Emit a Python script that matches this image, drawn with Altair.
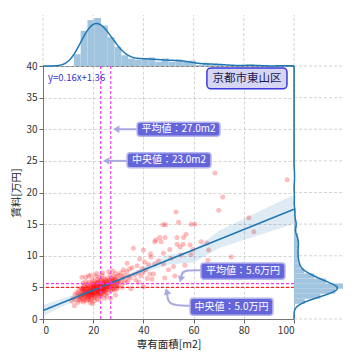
import altair as alt
import pandas as pd

# ---------------- data ----------------
pts = [
    (11.5,2.8),(12.0,3.3),(12.5,2.1),(12.8,3.9),(13.2,3.0),(13.5,4.2),(13.8,2.6),(14.0,3.5),(14.3,4.6),(14.5,3.1),(14.8,3.8),(15.0,2.9),
    (15.2,3.6),(15.4,4.1),(15.5,6.6),(15.6,3.2),(15.8,4.8),(16.0,3.9),(16.1,2.7),(16.3,4.4),(16.5,5.2),(16.6,3.4),(16.8,4.0),(17.0,6.6),
    (17.0,3.7),(17.2,4.6),(17.3,2.9),(17.5,4.2),(17.6,5.5),(17.8,3.5),(18.0,4.0),(18.0,4.9),(18.2,3.1),(18.3,4.5),(18.5,3.8),(18.5,5.8),
    (18.7,4.3),(18.8,2.6),(19.0,4.7),(19.0,3.6),(19.1,5.1),(19.2,4.1),(19.4,3.3),(19.5,4.4),(19.5,6.2),(19.6,3.9),(19.8,5.0),(19.9,4.2),
    (15.9,5.7),(16.4,3.0),(17.4,5.0),(18.1,6.8),(18.9,3.0),(19.3,5.6),(16.9,4.3),(17.7,3.3),(15.3,4.5),(19.7,2.4),(18.4,4.1),(17.1,5.9),
    (16.2,4.7),(19.0,6.9),
    (20.0,4.5),(20.1,3.8),(20.2,5.3),(20.3,4.1),(20.5,6.0),(20.5,3.4),(20.7,4.8),(20.8,5.5),(21.0,4.3),(21.0,6.8),(21.1,3.7),(21.2,5.0),
    (21.4,4.6),(21.5,5.8),(21.5,3.2),(21.7,4.9),(21.8,6.3),(22.0,4.2),(22.0,5.4),(22.1,3.9),(22.3,5.1),(22.4,6.6),(22.5,4.5),(22.5,5.7),
    (22.7,4.0),(22.8,5.2),(23.0,4.8),(23.0,6.1),(23.0,3.6),(23.2,5.0),(23.3,5.5),(23.5,4.4),(23.5,6.9),(23.6,5.3),(23.8,4.7),(23.9,5.9),
    (24.0,5.0),(24.0,4.1),(24.2,6.4),(24.3,5.4),(24.5,4.6),(24.5,5.8),(24.7,5.1),(24.8,3.9),(24.9,6.2),(20.4,2.9),(21.3,7.2),(22.2,3.0),
    (23.7,7.3),(24.4,3.3),(20.9,5.1),(21.9,4.4),(22.9,4.9),(23.4,4.0),(24.6,5.0),
    (25.0,5.3),(25.2,4.7),(25.3,6.0),(25.5,5.6),(25.7,4.2),(25.8,6.5),(26.0,5.2),(26.1,5.8),(26.3,4.9),(26.5,6.2),(26.6,5.4),(26.8,7.0),
    (27.0,5.7),(27.1,4.5),(27.3,6.4),(27.5,5.1),(27.6,6.0),(27.8,4.8),(28.0,5.5),(28.1,6.7),(28.3,5.9),(28.5,4.6),(28.6,6.3),(28.8,5.3),
    (29.0,7.2),(29.2,5.6),(29.4,6.1),(29.6,4.9),(29.8,6.8),(25.4,3.6),(26.9,3.3),(27.9,7.6),(28.9,3.8),(26.2,7.5),(29.5,5.2),
    (30.0,6.0),(30.3,5.4),(30.5,6.9),(30.8,5.8),(31.0,7.3),(31.3,6.3),(31.5,5.0),(31.8,6.6),(32.0,7.8),(32.3,5.7),(32.5,6.9),(33.0,6.2),
    (33.3,7.5),(33.5,8.8),(33.8,5.9),(34.2,6.8),(34.5,7.9),(34.8,6.5),(35.5,8.1),(35.0,4.8),
    (36.0,11.2),(36.5,7.0),(37.0,6.2),(37.5,8.4),(38.0,7.3),(38.5,9.5),(39.0,6.8),(39.5,8.0),(40.0,10.9),(40.0,7.4),(40.0,5.1),(40.5,9.0),
    (41.0,7.8),(41.5,6.4),(42.0,8.6),(42.5,7.1),(43.0,9.8),(43.4,6.3),(44.0,7.1),(44.5,8.7),(44.5,12.2),(45.0,12.5),(38.2,5.8),(42.8,10.3),
    (46.5,12.9),(47.0,12.2),(47.8,14.9),(48.6,12.9),(48.8,14.9),(48.0,10.4),(48.0,8.7),(48.5,6.5),(46.0,9.2),(50.0,7.8),(51.0,9.6),(52.0,8.3),
    (53.0,16.9),(53.4,12.9),(53.4,11.8),(54.0,15.3),(54.6,11.4),(55.0,10.1),(55.8,11.8),(56.0,12.9),(57.0,13.4),(58.6,11.7),(59.0,15.0),
    (59.0,10.2),(59.8,11.0),(50.5,11.0),(52.5,6.8),(56.5,8.5),
    (60.5,15.0),(63.0,12.2),(65.3,12.0),(65.7,9.3),(66.0,10.9),(68.5,23.1),(70.0,17.2),(71.6,19.3),(75.0,9.8),(82.0,16.0),(84.0,13.8),(97.3,22.0),
    (14.2,4.0),(14.9,3.4),(15.1,4.9),(15.7,3.8),(16.0,4.5),(16.4,5.1),(16.7,3.6),(17.0,4.8),(17.3,4.1),(17.6,3.9),(17.9,5.3),(18.2,4.4),
    (18.4,3.5),(18.6,5.0),(18.8,4.6),(19.1,3.8),(19.3,4.3),(19.5,5.4),(19.7,4.0),(19.9,4.8),(20.1,4.9),(20.3,5.6),(20.6,4.2),(20.8,3.6),
    (21.0,5.2),(21.2,4.5),(21.4,5.6),(21.6,4.0),(21.8,5.1),(22.0,4.7),(22.2,5.9),(22.4,4.3),(22.6,5.0),(22.8,3.7),(23.0,5.3),(23.1,4.5),
    (23.3,6.2),(23.5,4.9),(23.7,5.6),(23.9,4.3),(24.1,5.2),(24.3,4.8),(24.5,5.5),(24.8,4.4),(25.0,5.9),(25.3,5.0),(25.6,5.4),(25.9,4.6),
    (26.2,5.5),(26.5,5.0),(26.8,6.1),(27.2,5.3),(27.6,4.7),(28.0,6.2),(28.4,5.4),(28.8,6.5),(29.2,4.8),(29.7,5.8),(20.0,5.0),(21.5,4.6),
]
area = [p[0] for p in pts]
rent = [p[1] for p in pts]

# regression (from the label) and its confidence band
reg_slope, reg_intercept = 0.16, 1.36
reg_x = [0, 100]
band_x = [0, 10, 20, 30, 40, 50, 60, 70, 80, 90, 100]
band_lo = [0.49, 2.39, 4.36, 5.94, 7.31, 8.61, 8.95, 11.20, 12.48, 13.77, 15.06]
band_hi = [2.23, 3.53, 4.96, 6.38, 8.21, 10.11, 10.87, 13.92, 15.84, 17.75, 19.66]

mean_x, median_x = 27.0, 23.0
mean_y, median_y = 5.6, 5.0
x_ticks = [0, 20, 40, 60, 80, 100]
y_ticks = [0, 5, 10, 15, 20, 25, 30, 35, 40]

FONT = "Noto Sans CJK JP"
BLUE = "#1f77b4"
HIST = "#a2c5df"
GRID = "#c8c8c8"
W, H = 251, 253

df = pd.DataFrame({"x": area, "y": rent})
reg_df = pd.DataFrame({"x": reg_x, "y": [reg_intercept + reg_slope * v for v in reg_x]})
band_df = pd.DataFrame({"x": band_x, "lo": band_lo, "hi": band_hi})

xs = alt.Scale(domain=[0, 100], nice=False)
ys = alt.Scale(domain=[0, 40], nice=False)
xax = alt.Axis(values=x_ticks, title="専有面積[m2]", grid=True, tickSize=4)
yax = alt.Axis(values=y_ticks, title="賃料[万円]", grid=True, tickSize=4)


def X(f):
    return alt.X(f, type="quantitative", scale=xs, axis=xax)


def Y(f):
    return alt.Y(f, type="quantitative", scale=ys, axis=yax)


scatter = alt.Chart(df).mark_circle(color="#ff0000", opacity=0.26, size=25).encode(x=X("x"), y=Y("y"))
band = alt.Chart(band_df).mark_area(color=BLUE, opacity=0.15).encode(x=X("x"), y=Y("lo"), y2="hi")
reg_line = alt.Chart(reg_df).mark_line(color=BLUE, strokeWidth=1.6).encode(x=X("x"), y=Y("y"))

vrules = alt.Chart(pd.DataFrame({"v": [median_x, mean_x]})).mark_rule(
    color="#ec3cec", strokeDash=[3, 2], strokeWidth=1.2).encode(x=X("v"))
hrules = alt.Chart(pd.DataFrame({"v": [mean_y, median_y], "c": ["#ec3cec", "#ff2020"]})).mark_rule(
    strokeDash=[3, 2], strokeWidth=1.2).encode(y=Y("v"), color=alt.Color("c:N", scale=None))

# marginal grid lines (continuations of the main grid)
top_grid = alt.Chart(pd.DataFrame({"v": x_ticks})).mark_rule(
    color=GRID, strokeDash=[3, 2], strokeWidth=0.8).encode(x=X("v"), y=alt.value(0), y2=alt.value(-51))
right_grid = alt.Chart(pd.DataFrame({"v": y_ticks})).mark_rule(
    color=GRID, strokeDash=[3, 2], strokeWidth=0.8).encode(y=Y("v"), x=alt.value(W), x2=alt.value(W + 49))

# annotations
arrow_df = pd.DataFrame({
    "id": [1, 1, 2, 2, 3, 3, 3, 4, 4, 4],
    "o": [0, 1, 0, 1, 0, 1, 2, 0, 1, 2],
    "x": [37.5, 30.0, 33.5, 26.0, 62.9, 55.4, 55.1, 58.6, 49.8, 49.5],
    "y": [30.0, 30.0, 25.0, 25.0, 7.7, 7.75, 6.6, 2.1, 2.1, 4.0],
})
heads_df = pd.DataFrame({
    "x": [29.6, 25.6, 55.0, 49.4],
    "y": [30.0, 25.0, 6.45, 4.2],
    "a": [270, 270, 195, 345],
})
ARROW = "#a9a9e2"
arrows = alt.Chart(arrow_df).mark_line(color=ARROW, strokeWidth=2, interpolate="basis").encode(
    x=X("x"), y=Y("y"), detail="id:N", order="o:Q")
heads = alt.Chart(heads_df).mark_point(shape="triangle", filled=True, color=ARROW, size=55, opacity=1).encode(
    x=X("x"), y=Y("y"), angle=alt.Angle("a:Q", scale=None))

box_df = pd.DataFrame({
    "t": ["平均値：27.0m2", "中央値：23.0m2", "平均値：5.6万円", "中央値：5.0万円"],
    "bx1": [37.5, 33.5, 62.9, 58.6], "bx2": [70.5, 66.9, 96.4, 91.6],
    "by1": [28.9, 23.9, 6.3, 0.6], "by2": [31.1, 26.3, 8.85, 3.3],
    "tx": [54.0, 50.2, 79.7, 75.1], "ty": [30.0, 25.1, 7.6, 1.95],
})
boxes = alt.Chart(box_df).mark_rect(fill="#6565da", stroke="#b4b4ee", strokeWidth=1.5, cornerRadius=3).encode(
    x=X("bx1"), x2="bx2", y=Y("by1"), y2="by2")
box_text = alt.Chart(box_df).mark_text(font=FONT, fontSize=10, color="white").encode(
    x=X("tx"), y=Y("ty"), text="t:N")

title_df = pd.DataFrame({"t": ["京都市東山区"], "bx1": [65.3], "bx2": [97.2], "by1": [36.4], "by2": [39.7],
                         "tx": [81.3], "ty": [38.0]})
tbox = alt.Chart(title_df).mark_rect(fill="#d6d6f2", stroke="#3a3ae0", strokeWidth=1.5, cornerRadius=4).encode(
    x=X("bx1"), x2="bx2", y=Y("by1"), y2="by2")
ttext = alt.Chart(title_df).mark_text(font=FONT, fontSize=11.5, color="#1a1a50").encode(
    x=X("tx"), y=Y("ty"), text="t:N")

eq_df = pd.DataFrame({"t": ["y=0.16x+1.36"], "x": [2.0], "y": [38.1]})
eq = alt.Chart(eq_df).mark_text(font=FONT, fontSize=9.5, color="#3535c8", align="left").encode(
    x=X("x"), y=Y("y"), text="t:N")

main = alt.layer(top_grid, right_grid, scatter, band, reg_line, vrules, hrules, arrows, heads,
                 boxes, box_text, tbox, ttext, eq)

# top marginal: distribution of area (drawn above the plot with its own y range)
top_y = alt.Scale(nice=False, zero=True, range=[0, -48])
top_x = alt.Scale(domain=[0, 100], nice=False)
top_hist = alt.Chart(df).transform_bin(["xb0", "xb1"], "x", bin=alt.Bin(step=2.7, anchor=9.6)).transform_aggregate(
    xn="count()", groupby=["xb0", "xb1"]).transform_joinaggregate(xtot="sum(xn)").transform_calculate(
    xd="datum.xn / (datum.xtot * 2.7)").mark_rect(color=HIST).encode(
    x=alt.X("xb0:Q", scale=top_x, axis=None), x2="xb1:Q",
    y=alt.Y("xd:Q", scale=top_y, axis=None), y2=alt.datum(0))
top_kde = alt.Chart(df).transform_density("x", as_=["xv", "xd"], extent=[0, 100], steps=200).mark_line(
    color=BLUE, strokeWidth=1.5).encode(
    x=alt.X("xv:Q", scale=top_x, axis=None),
    y=alt.Y("xd:Q", scale=top_y, axis=None))
top = alt.layer(top_hist, top_kde)

# right marginal: distribution of rent (drawn right of the plot with its own x range)
r_x = alt.Scale(nice=False, zero=True, range=[W, W + 49])
r_y = alt.Scale(domain=[0, 40], nice=False)
r_hist = alt.Chart(df).transform_bin(["yb0", "yb1"], "y", bin=alt.Bin(step=0.8)).transform_aggregate(
    yn="count()", groupby=["yb0", "yb1"]).transform_joinaggregate(ytot="sum(yn)").transform_calculate(
    yd="datum.yn / (datum.ytot * 0.8)").mark_rect(color=HIST).encode(
    y=alt.Y("yb0:Q", scale=r_y, axis=None), y2="yb1:Q",
    x=alt.X("yd:Q", scale=r_x, axis=None), x2=alt.datum(0))
r_kde = alt.Chart(df).transform_density("y", as_=["yv", "yd"], extent=[0, 40], steps=200).mark_line(
    color=BLUE, strokeWidth=1.5).encode(
    y=alt.Y("yv:Q", scale=r_y, axis=None),
    x=alt.X("yd:Q", scale=r_x, axis=None), order="yv:Q")
right = alt.layer(r_hist, r_kde)

chart = alt.layer(main, top, right).resolve_scale(x="independent", y="independent").properties(
    width=W, height=H,
    padding={"left": 3, "top": 6, "right": 4, "bottom": 5},
).configure_view(stroke="#777777", strokeWidth=1).configure_axis(
    labelFont=FONT, titleFont=FONT, labelFontSize=10, titleFontSize=10.5, titleFontWeight="normal",
    labelColor="#333333", titleColor="#222222", gridColor=GRID, gridDash=[3, 2], gridWidth=0.8,
    tickColor="#666666", domainColor="#777777", labelPadding=2, titlePadding=4,
)

chart.save("out.html", embed_options={"renderer": "svg", "actions": False})
